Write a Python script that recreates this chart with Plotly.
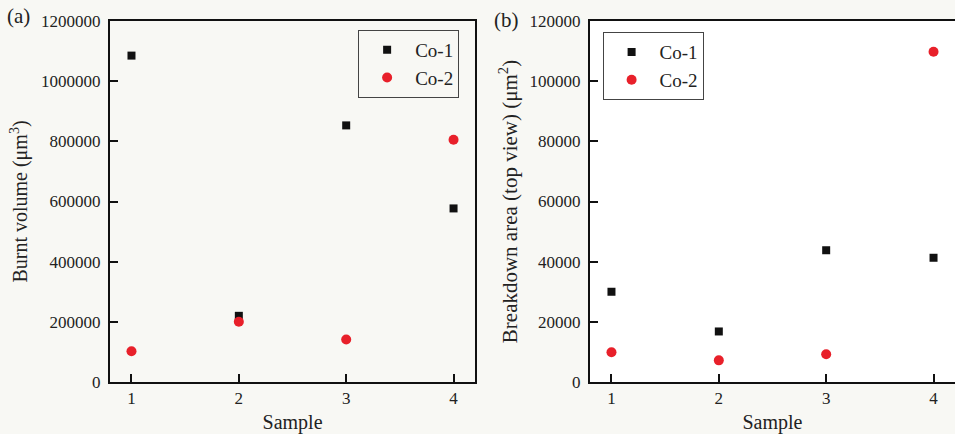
import plotly.graph_objects as go

samples = [1, 2, 3, 4]
vol_co1 = [1085000, 220000, 853000, 577000]
vol_co2 = [102000, 200000, 141000, 805000]
area_co1 = [30000, 16800, 43800, 41300]
area_co2 = [9900, 7200, 9200, 109800]

FONT = "Liberation Serif"
BLACK = "#111111"
RED = "#e8202a"

fig = go.Figure()
fig.add_trace(go.Scatter(x=samples, y=vol_co1, mode="markers", name="Co-1",
                         marker=dict(symbol="square", size=8, color=BLACK),
                         xaxis="x", yaxis="y", legend="legend"))
fig.add_trace(go.Scatter(x=samples, y=vol_co2, mode="markers", name="Co-2",
                         marker=dict(symbol="circle", size=10, color=RED),
                         xaxis="x", yaxis="y", legend="legend"))
fig.add_trace(go.Scatter(x=samples, y=area_co1, mode="markers", name="Co-1",
                         marker=dict(symbol="square", size=8, color=BLACK),
                         xaxis="x2", yaxis="y2", legend="legend2"))
fig.add_trace(go.Scatter(x=samples, y=area_co2, mode="markers", name="Co-2",
                         marker=dict(symbol="circle", size=10, color=RED),
                         xaxis="x2", yaxis="y2", legend="legend2"))

axis_common = dict(showline=True, linecolor=BLACK, linewidth=2, ticks="inside",
                   ticklen=8, tickwidth=2, tickcolor=BLACK, showgrid=False,
                   zeroline=False, automargin=False,
                   tickfont=dict(family=FONT, size=17, color="#222"))

ydom = [0.1198, 0.9516]
fig.update_layout(
    width=955, height=434,
    margin=dict(l=0, r=0, t=0, b=0),
    paper_bgcolor="#f8f8f4", plot_bgcolor="#f8f8f4",
    font=dict(family=FONT, color="#222"),
    xaxis=dict(domain=[0.1152, 0.4974], range=[0.8, 4.2], tickvals=[1, 2, 3, 4],
               mirror=True, anchor="y",
               title=dict(text="Sample", font=dict(family=FONT, size=20), standoff=9),
               **axis_common),
    yaxis=dict(domain=ydom, range=[0, 1200000], dtick=200000, mirror=True, anchor="x",
               tickformat="d", ticklabelstandoff=4,
               title=dict(text="Burnt volume (μm<sup>3</sup>)", font=dict(family=FONT, size=20), standoff=8),
               **axis_common),
    xaxis2=dict(domain=[0.6178, 1.0], range=[0.8, 4.2], tickvals=[1, 2, 3, 4],
                mirror=True, anchor="y2",
                title=dict(text="Sample", font=dict(family=FONT, size=20), standoff=9),
                **axis_common),
    yaxis2=dict(domain=ydom, range=[0, 120000], dtick=20000, mirror=False, anchor="x2",
                tickformat="d", ticklabelstandoff=4,
                title=dict(text="Breakdown area (top view) (μm<sup>2</sup>)", font=dict(family=FONT, size=21), standoff=6),
                **axis_common),
    legend=dict(x=0.375, y=0.931, xanchor="left", yanchor="top", bordercolor="#444",
                borderwidth=1, bgcolor="rgba(0,0,0,0)", itemwidth=46,
                font=dict(family=FONT, size=19, color="#222")),
    legend2=dict(x=0.631, y=0.926, xanchor="left", yanchor="top", bordercolor="#444",
                 borderwidth=1, bgcolor="#ffffff", itemwidth=46,
                 font=dict(family=FONT, size=19, color="#222")),
    shapes=[
        dict(type="rect", xref="x2 domain", yref="y2 domain", x0=0, x1=1, y0=0, y1=1,
             fillcolor="#ffffff", line=dict(width=0), layer="below"),
    ],
    annotations=[
        dict(text="(a)", x=0.005, y=0.963, xref="paper", yref="paper", xanchor="left",
             yanchor="middle", showarrow=False, font=dict(family=FONT, size=21, color="#222")),
        dict(text="(b)", x=0.515, y=0.954, xref="paper", yref="paper", xanchor="left",
             yanchor="middle", showarrow=False, font=dict(family=FONT, size=21, color="#222")),
    ],
)

fig.write_html("out.html", config={"displayModeBar": False},
               post_script="document.body.style.margin='0';document.body.style.padding='0';")
